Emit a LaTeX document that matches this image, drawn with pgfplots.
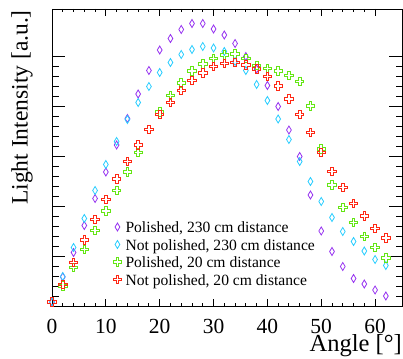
\documentclass[border=0pt]{standalone}
\usepackage{pgfplots}
\pgfplotsset{compat=1.18}
\usepackage{fontspec}
\setmainfont{Liberation Serif}
\definecolor{cpurple}{RGB}{150,50,240}
\definecolor{ccyan}{RGB}{40,205,255}
\definecolor{cgreen}{RGB}{100,230,20}
\definecolor{cred}{RGB}{255,40,20}
\pgfdeclareplotmark{ocross}{%
  \pgfpathmoveto{\pgfqpoint{-0.32\pgfplotmarksize}{\pgfplotmarksize}}%
  \pgfpathlineto{\pgfqpoint{0.32\pgfplotmarksize}{\pgfplotmarksize}}%
  \pgfpathlineto{\pgfqpoint{0.32\pgfplotmarksize}{0.32\pgfplotmarksize}}%
  \pgfpathlineto{\pgfqpoint{\pgfplotmarksize}{0.32\pgfplotmarksize}}%
  \pgfpathlineto{\pgfqpoint{\pgfplotmarksize}{-0.32\pgfplotmarksize}}%
  \pgfpathlineto{\pgfqpoint{0.32\pgfplotmarksize}{-0.32\pgfplotmarksize}}%
  \pgfpathlineto{\pgfqpoint{0.32\pgfplotmarksize}{-\pgfplotmarksize}}%
  \pgfpathlineto{\pgfqpoint{-0.32\pgfplotmarksize}{-\pgfplotmarksize}}%
  \pgfpathlineto{\pgfqpoint{-0.32\pgfplotmarksize}{-0.32\pgfplotmarksize}}%
  \pgfpathlineto{\pgfqpoint{-\pgfplotmarksize}{-0.32\pgfplotmarksize}}%
  \pgfpathlineto{\pgfqpoint{-\pgfplotmarksize}{0.32\pgfplotmarksize}}%
  \pgfpathlineto{\pgfqpoint{-0.32\pgfplotmarksize}{0.32\pgfplotmarksize}}%
  \pgfpathclose
  \pgfusepathqstroke}

\pgfplotstableread{
x pp np pn nn
0 0.08 0.08 0.08 0.08
2 0.58 0.59 0.40 0.43
4 1.07 1.17 0.77 0.87
6 1.61 1.75 1.13 1.32
8 2.15 2.31 1.51 1.73
10 2.68 2.83 1.90 2.13
12 3.22 3.29 2.31 2.54
14 3.75 3.73 2.68 2.89
16 4.24 4.07 3.07 3.22
18 4.71 4.39 3.53 3.53
20 5.12 4.67 3.88 3.83
22 5.35 4.87 4.21 4.07
24 5.53 5.03 4.46 4.31
26 5.65 5.13 4.70 4.51
28 5.65 5.19 4.84 4.66
30 5.54 5.16 4.95 4.79
32 5.42 5.09 5.02 4.85
34 5.25 4.89 5.04 4.87
36 4.99 4.71 4.95 4.82
38 4.74 4.43 4.81 4.74
40 4.41 4.11 4.75 4.59
42 3.99 3.74 4.70 4.40
44 3.52 3.33 4.61 4.14
46 2.99 2.89 4.49 3.83
48 2.22 2.49 4.00 3.47
50 1.50 2.09 3.14 3.07
52 1.09 1.77 2.42 2.69
54 0.79 1.49 1.97 2.37
56 0.55 1.29 1.67 2.05
58 0.44 1.10 1.39 1.80
60 0.32 0.93 1.17 1.55
62 0.20 0.81 0.96 1.36
}\data

\begin{document}
\begin{tikzpicture}
\begin{axis}[
  name=ax,
  scale only axis,
  width=350pt, height=297pt,
  xmin=0, xmax=65, ymin=0, ymax=5.94,
  clip=false,
  axis line style={line width=0.9pt},
  tick style={line width=0.9pt, black},
  tick align=inside,
  xtick={0,10,...,60},
  minor x tick num=4,
  ytick={0,1,...,5},
  yticklabels={},
  minor y tick num=4,
  x tick style={/pgfplots/major tick length=7pt, /pgfplots/minor tick length=3.5pt},
  y tick style={/pgfplots/major tick length=13pt, /pgfplots/minor tick length=6.5pt},
  /pgf/number format/assume math mode=true,
  xticklabel style={font=\fontsize{21.5}{24}\selectfont, anchor=base, yshift=-27pt, inner sep=0pt},
  legend cell align=left,
  legend image code/.code={\draw[#1] plot coordinates {(0pt,3.7pt)};},
  legend style={draw=none, fill=none, inner sep=0pt, outer sep=0pt,
    at={(axis description cs:0.175,0.283)}, anchor=north west,
    font=\fontsize{15.6}{17.5}\selectfont,
    nodes={inner sep=0pt, text height=11pt, text depth=6.5pt},
    /tikz/column sep=3.85pt, /tikz/row sep=0pt},
]
\addplot[only marks, cpurple, mark=diamond, mark size=4pt, mark options={xscale=0.8, line width=0.8pt}] table[x=x,y=pp]{\data};
\addlegendentry{Polished, 230 cm distance}
\addplot[only marks, ccyan, mark=diamond, mark size=4pt, mark options={xscale=0.8, line width=0.8pt}] table[x=x,y=np]{\data};
\addlegendentry{Not polished, 230 cm distance}
\addplot[only marks, cgreen, mark=ocross, mark size=4.2pt, mark options={line width=0.9pt}] table[x=x,y=pn]{\data};
\addlegendentry{Polished, 20 cm distance}
\addplot[only marks, cred, mark=ocross, mark size=4.2pt, mark options={line width=0.9pt}] table[x=x,y=nn]{\data};
\addlegendentry{Not polished, 20 cm distance}
\end{axis}
\node[rotate=90, anchor=east, inner sep=0pt, font=\fontsize{23.5}{26}\selectfont] at ([xshift=-30pt,yshift=-1pt]ax.north west) {Light Intensity [a.u.]};
\node[anchor=base east, inner sep=0pt, font=\fontsize{24.5}{27}\selectfont] at ([yshift=-45.7pt]ax.south east) {Angle [°]};
\pgfresetboundingbox
\path ([xshift=-52pt,yshift=-52pt]ax.south west) rectangle ([xshift=1pt,yshift=9pt]ax.north east);
\end{tikzpicture}
\end{document}
